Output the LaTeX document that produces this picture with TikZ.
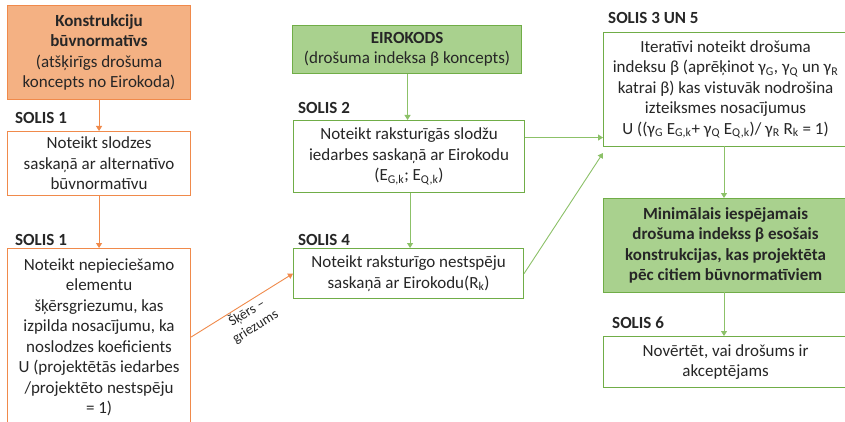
\documentclass[tikz,border=0pt]{standalone}
\usepackage{fontspec}
\setmainfont{Carlito}
\usetikzlibrary{arrows.meta}
\definecolor{org}{HTML}{F08A4B}
\definecolor{orgfill}{HTML}{F4B183}
\definecolor{grn}{HTML}{70AD47}
\definecolor{grnline}{HTML}{8CC168}
\definecolor{grnfill}{HTML}{A9D18E}
\definecolor{txt}{HTML}{262626}
\newcommand{\sub}[1]{\textsubscript{#1}}
\begin{document}
\begin{tikzpicture}[x=1pt,y=-1pt,
  base/.style={font=\fontsize{17}{20.5}\selectfont, align=center, inner sep=0pt,
    anchor=north west, line width=1.1pt, text=txt},
  obox/.style={base, draw=org, fill=white},
  ofill/.style={base, draw=org, fill=orgfill},
  gbox/.style={base, draw=grn, fill=white},
  gfill/.style={base, draw=grn, fill=grnfill},
  lbl/.style={font=\fontsize{17}{20}\selectfont\bfseries, anchor=west, inner sep=0pt, text=txt},
  oarr/.style={draw=org, line width=0.9pt, -{Triangle[width=6pt,length=5pt]}},
  garr/.style={draw=grnline, line width=0.9pt, -{Triangle[width=6pt,length=5pt]}},
  edgelbl/.style={sloped, below, font=\fontsize{14}{16.5}\selectfont, align=center, text=txt, inner sep=1pt},
]
\path[use as bounding box, clip] (0,0) rectangle (845,422);
\fill[white] (0,0) rectangle (845,422);

% left column
\node[ofill, minimum width=183pt, minimum height=94pt] (a) at (7,5)
  {\textbf{Konstrukciju}\\ \textbf{būvnormatīvs}\\ (atšķirīgs drošuma\\ koncepts no Eirokoda)};
\node[lbl] (la) at (15,118) {SOLIS 1};
\node[obox, minimum width=183pt, minimum height=64pt] (b) at (7,131)
  {Noteikt slodzes\\ saskaņā ar alternatīvo\\ būvnormatīvu};
\node[lbl] (lb) at (15,240) {SOLIS 1};
\node[obox, minimum width=183pt, minimum height=177pt] (c) at (7,248)
  {Noteikt nepieciešamo\\ elementu\\ šķērsgriezumu, kas\\ izpilda nosacījumu, ka\\ noslodzes koeficients\\ U (projektētās iedarbes\\ /projektēto nestspēju\\ = 1)};

% middle column
\node[gfill, minimum width=229pt, minimum height=48pt] (e) at (292,25)
  {\textbf{EIROKODS}\\ (drošuma indeksa β koncepts)};
\node[lbl] (l2) at (298,108) {SOLIS 2};
\node[gbox, minimum width=231pt, minimum height=72pt] (s2) at (293,120)
  {Noteikt raksturīgās slodžu\\ iedarbes saskaņā ar Eirokodu\\ (E\sub{G,k}; E\sub{Q,k})};
\node[lbl] (l4) at (298,240) {SOLIS 4};
\node[gbox, minimum width=230pt, minimum height=50pt] (s4) at (293,248)
  {Noteikt raksturīgo nestspēju\\ saskaņā ar Eirokodu(R\sub{k})};

% right column
\node[lbl] (l35) at (608,18) {SOLIS 3 UN 5};
\node[gbox, minimum width=244pt, minimum height=114pt] (s35) at (603,32)
  {Iteratīvi noteikt drošuma\\ indeksu β (aprēķinot γ\sub{G}, γ\sub{Q} un γ\sub{R}\\ katrai β) kas vistuvāk nodrošina\\ izteiksmes nosacījumus\\ U ((γ\sub{G} E\sub{G,k}+ γ\sub{Q} E\sub{Q,k})/ γ\sub{R} R\sub{k} = 1)};
\node[gfill, minimum width=244pt, minimum height=94pt] (m) at (603,198)
  {\textbf{Minimālais iespējamais}\\ \textbf{drošuma indekss β esošais}\\ \textbf{konstrukcijas, kas projektēta}\\ \textbf{pēc citiem būvnormatīviem}};
\node[lbl] (l6) at (612,323) {SOLIS 6};
\node[gbox, minimum width=244pt, minimum height=51pt] (s6) at (603,336)
  {Novērtēt, vai drošums ir\\ akceptējams};

% connectors
\draw[oarr] (a) -- (b);
\draw[oarr] (b) -- (c);
\draw[oarr] (c.east) -- node[edgelbl] {Šķērs –\\ griezums} (s4.west);
\draw[garr] ([xshift=0.5pt]e.south) -- ([xshift=0.5pt]e.south |- s2.north);
\draw[garr] ([xshift=1pt]s2.south) -- ([xshift=1pt]s2.south |- s4.north);
\draw[garr] ([yshift=19pt]s2.east) -- ([yshift=19pt]s2.east -| s35.west);
\coordinate (s4end) at (603,153);
\draw[garr] (s4.east) -- (s4end);
\draw[garr] (724,146) coordinate (t1) -- (t1 |- m.north);
\draw[garr] (724,292) coordinate (t2) -- (t2 |- s6.north);
\end{tikzpicture}
\end{document}
